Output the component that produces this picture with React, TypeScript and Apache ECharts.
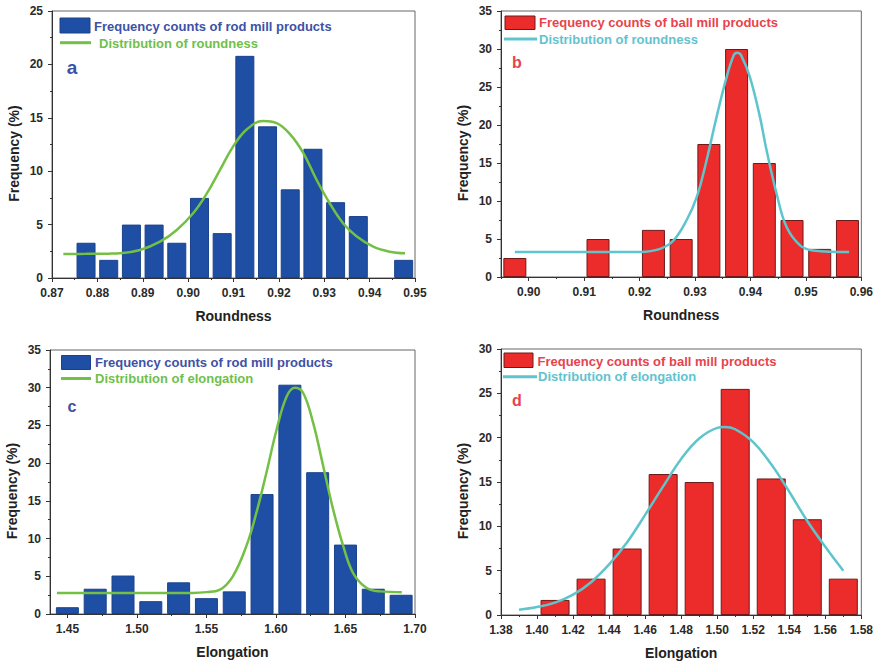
import React, { useEffect, useRef } from 'react';
import * as echarts from 'echarts';

// ---- Panel a: rod mill, roundness ----
const rodRoundnessBins = [0.8775, 0.8825, 0.8875, 0.8925, 0.8975, 0.9025, 0.9075, 0.9125, 0.9175, 0.9225, 0.9275, 0.9325, 0.9375, 0.9425, 0.9475];
const rodRoundnessFreq = [3.3, 1.7, 5.0, 5.0, 3.3, 7.5, 4.2, 20.8, 14.2, 8.3, 12.1, 7.1, 5.8, 0, 1.7];
const rodRoundnessFitX = [0.8725, 0.8775, 0.8825, 0.885, 0.8894, 0.8938, 0.8975, 0.9011, 0.9041, 0.907, 0.9099, 0.9129, 0.9165, 0.9195, 0.9224, 0.9254, 0.9283, 0.9312, 0.9342, 0.9371, 0.9408, 0.9444, 0.9478];
const rodRoundnessFitY = [2.25, 2.26, 2.28, 2.31, 2.62, 3.4, 4.5, 6.06, 7.9, 10.1, 12.3, 13.9, 14.7, 14.5, 13.5, 11.7, 9.2, 7.0, 5.1, 3.9, 2.93, 2.46, 2.31];

// ---- Panel b: ball mill, roundness ----
const ballRoundnessBins = [0.8975, 0.9025, 0.9075, 0.9125, 0.9175, 0.9225, 0.9275, 0.9325, 0.9375, 0.9425, 0.9475, 0.9525, 0.9575];
const ballRoundnessFreq = [2.5, 0, 0, 5.0, 0, 6.2, 5.0, 17.5, 30.0, 15.0, 7.5, 3.7, 7.5];
const ballRoundnessFitX = [0.8975, 0.91, 0.9201, 0.9237, 0.9261, 0.9285, 0.9303, 0.9321, 0.9339, 0.9357, 0.937, 0.9376, 0.9383, 0.9399, 0.9417, 0.9429, 0.9447, 0.9465, 0.9489, 0.9513, 0.9578];
const ballRoundnessFitY = [3.3, 3.3, 3.3, 3.7, 4.8, 7.5, 10.5, 15.4, 21.1, 26.3, 29.2, 29.5, 29.2, 26.3, 21.1, 16.7, 11.0, 6.6, 4.2, 3.5, 3.3];

// ---- Panel c: rod mill, elongation ----
const rodElongationBins = [1.45, 1.47, 1.49, 1.51, 1.53, 1.55, 1.57, 1.59, 1.61, 1.63, 1.65, 1.67, 1.69];
const rodElongationFreq = [0.9, 3.35, 5.1, 1.7, 4.2, 2.1, 3.0, 15.9, 30.4, 18.8, 9.2, 3.35, 2.55];
const rodElongationFitX = [1.4425, 1.5, 1.54, 1.55, 1.5594, 1.569, 1.5787, 1.5859, 1.5931, 1.6004, 1.6076, 1.6136, 1.6196, 1.6268, 1.634, 1.6412, 1.6484, 1.6556, 1.6653, 1.6749, 1.6905];
const rodElongationFitY = [2.8, 2.8, 2.8, 2.9, 3.2, 5.0, 9.0, 13.4, 18.7, 24.4, 28.8, 30.0, 29.3, 25.3, 19.6, 13.8, 9.0, 5.4, 3.45, 3.0, 2.9];

// ---- Panel d: ball mill, elongation ----
const ballElongationBins = [1.41, 1.43, 1.45, 1.47, 1.49, 1.51, 1.53, 1.55, 1.57];
const ballElongationFreq = [1.7, 4.1, 7.5, 15.9, 15.0, 25.5, 15.4, 10.8, 4.1];
const ballElongationFitX = [1.39, 1.4, 1.41, 1.42, 1.43, 1.44, 1.45, 1.46, 1.47, 1.48, 1.49, 1.5, 1.504, 1.51, 1.52, 1.53, 1.54, 1.55, 1.56, 1.57];
const ballElongationFitY = [0.6, 0.9, 1.4, 2.3, 3.7, 5.7, 8.2, 11.3, 14.5, 17.6, 19.9, 21.1, 21.2, 20.95, 19.5, 17.0, 13.9, 10.6, 7.7, 5.0];

// ---- tick labels ----
const ticksB = [0.9, 0.91, 0.92, 0.93, 0.94, 0.95, 0.96];
const minorTicksB = [0.895, 0.905, 0.915, 0.925, 0.935, 0.945, 0.955];
const ticksC = [1.45, 1.5, 1.55, 1.6, 1.65, 1.7];
const minorTicksC = [1.475, 1.525, 1.575, 1.625, 1.675];

const rodLegend = 'Frequency counts of rod mill products';
const ballLegend = 'Frequency counts of ball mill products';
const roundFit = 'Distribution of roundness';
const elongFit = 'Distribution of elongation';

const FONT = "'Liberation Sans', Arial, Helvetica, sans-serif";
const BLUE = '#1f4fa5';
const BLUE_TEXT = '#3e51a6';
const RED = '#ec2b2b';
const RED_TEXT = '#e8434b';
const GREEN = '#74c044';
const GREEN_TEXT = '#6fbf4c';
const CYAN = '#5ec5cd';
const CYAN_TEXT = '#62c3cf';
const AXIS = '#333';

const pairs = (xs: number[], ys: number[]) => xs.map((x, i) => [x, ys[i]]);

const grids = [
  { left: 52, top: 11, width: 363, height: 267 },
  { left: 501, top: 11, width: 362, height: 266 },
  { left: 50, top: 350, width: 365, height: 264 },
  { left: 501, top: 349, width: 362, height: 266 },
].map((g) => ({ ...g, show: true, borderColor: '#666', borderWidth: 1, backgroundColor: 'transparent' }));

const labelStyle = { fontFamily: FONT, fontWeight: 'bold', fontSize: 12, color: '#2a2a2a' };
const nameStyle = { fontFamily: FONT, fontWeight: 'bold', fontSize: 14, color: '#222' };

function mainX(gridIndex: number, min: number, max: number, name: string, extra: any) {
  return {
    type: 'value',
    gridIndex,
    position: 'bottom',
    min,
    max,
    name,
    nameLocation: 'middle',
    nameGap: 31,
    nameTextStyle: nameStyle,
    axisLine: { show: true, onZero: false, lineStyle: { color: AXIS, width: 1 } },
    axisTick: { show: true, inside: false, length: 4, lineStyle: { color: AXIS } },
    axisLabel: { ...labelStyle, margin: 9, formatter: (v: number) => v.toFixed(2) },
    splitLine: { show: false },
    ...extra,
  };
}

function minorX(gridIndex: number, min: number, max: number, values: number[]) {
  return {
    type: 'value',
    gridIndex,
    position: 'bottom',
    min,
    max,
    axisLine: { show: false, onZero: false },
    axisTick: { show: true, inside: false, length: 2, customValues: values, lineStyle: { color: AXIS } },
    axisLabel: { show: false },
    splitLine: { show: false },
  };
}

function mainY(gridIndex: number, max: number) {
  return {
    type: 'value',
    gridIndex,
    min: 0,
    max,
    interval: 5,
    name: 'Frequency (%)',
    nameLocation: 'middle',
    nameGap: 31,
    nameTextStyle: { ...nameStyle, padding: [0, 18, 0, 0] },
    axisLine: { show: true, onZero: false, lineStyle: { color: AXIS, width: 1 } },
    axisTick: { show: true, inside: false, length: 4, lineStyle: { color: AXIS } },
    minorTick: { show: true, splitNumber: 2, length: 2, lineStyle: { color: AXIS } },
    axisLabel: { ...labelStyle, margin: 9 },
    splitLine: { show: false },
    minorSplitLine: { show: false },
  };
}

const xAxes = [
  mainX(0, 0.87, 0.95, 'Roundness', {
    interval: 0.01,
    minorTick: { show: true, splitNumber: 2, length: 2, lineStyle: { color: AXIS } },
    axisLabel: { ...labelStyle, margin: 9, showMinLabel: true, showMaxLabel: true, formatter: (v: number) => v.toFixed(2) },
  }),
  mainX(1, 0.895, 0.96, 'Roundness', {
    axisTick: { show: true, inside: false, length: 4, customValues: ticksB, lineStyle: { color: AXIS } },
    axisLabel: { ...labelStyle, margin: 9, customValues: ticksB, formatter: (v: number) => v.toFixed(2) },
  }),
  mainX(2, 1.4375, 1.7, 'Elongation', {
    axisTick: { show: true, inside: false, length: 4, customValues: ticksC, lineStyle: { color: AXIS } },
    axisLabel: { ...labelStyle, margin: 9, customValues: ticksC, formatter: (v: number) => v.toFixed(2) },
  }),
  mainX(3, 1.38, 1.58, 'Elongation', {
    interval: 0.02,
    minorTick: { show: true, splitNumber: 2, length: 2, lineStyle: { color: AXIS } },
    axisLabel: { ...labelStyle, margin: 9, showMinLabel: true, showMaxLabel: true, formatter: (v: number) => v.toFixed(2) },
  }),
  minorX(1, 0.895, 0.96, minorTicksB),
  minorX(2, 1.4375, 1.7, minorTicksC),
];

const yAxes = [mainY(0, 25), mainY(1, 35), mainY(2, 35), mainY(3, 30)];

function barSeries(i: number, bins: number[], freq: number[], color: string, border: string, width: number, name: string) {
  return {
    type: 'bar',
    name,
    xAxisIndex: i,
    yAxisIndex: i,
    data: pairs(bins, freq).map((p) =>
      p[1] === 0 ? { value: p, itemStyle: { borderWidth: 0, opacity: 0 } } : { value: p }
    ),
    barWidth: width,
    itemStyle: { color, borderColor: border, borderWidth: 1 },
    z: 2,
  };
}

function lineSeries(i: number, xs: number[], ys: number[], color: string, name: string) {
  return {
    type: 'line',
    name,
    xAxisIndex: i,
    yAxisIndex: i,
    data: pairs(xs, ys),
    smooth: 0.4,
    symbol: 'none',
    showSymbol: false,
    lineStyle: { color, width: 2.5 },
    z: 3,
  };
}

const series = [
  barSeries(0, rodRoundnessBins, rodRoundnessFreq, BLUE, '#1a428c', 19, rodLegend),
  lineSeries(0, rodRoundnessFitX, rodRoundnessFitY, GREEN, roundFit),
  barSeries(1, ballRoundnessBins, ballRoundnessFreq, RED, '#6e1a1a', 23, ballLegend),
  lineSeries(1, ballRoundnessFitX, ballRoundnessFitY, CYAN, roundFit),
  barSeries(2, rodElongationBins, rodElongationFreq, BLUE, '#1a428c', 23, rodLegend),
  lineSeries(2, rodElongationFitX, rodElongationFitY, GREEN, elongFit),
  barSeries(3, ballElongationBins, ballElongationFreq, RED, '#6e1a1a', 29, ballLegend),
  lineSeries(3, ballElongationFitX, ballElongationFitY, CYAN, elongFit),
];

function legendBlock(
  rect: [number, number, number, number],
  rectColor: string,
  rectBorder: string,
  text1: string,
  text1Color: string,
  text1Pos: [number, number],
  line: [number, number, number],
  lineColor: string,
  text2: string,
  text2Color: string,
  text2Pos: [number, number]
) {
  return [
    { type: 'rect', shape: { x: rect[0], y: rect[1], width: rect[2], height: rect[3] }, style: { fill: rectColor, stroke: rectBorder, lineWidth: 1 }, z: 10 },
    { type: 'text', x: text1Pos[0], y: text1Pos[1], style: { text: text1, fill: text1Color, font: `bold 13px ${FONT}`, align: 'left', verticalAlign: 'middle' }, z: 10 },
    { type: 'line', shape: { x1: line[0], y1: line[2], x2: line[1], y2: line[2] }, style: { stroke: lineColor, lineWidth: 3 }, z: 10 },
    { type: 'text', x: text2Pos[0], y: text2Pos[1], style: { text: text2, fill: text2Color, font: `bold 13px ${FONT}`, align: 'left', verticalAlign: 'middle' }, z: 10 },
  ];
}

function panelLetter(letter: string, x: number, y: number, color: string, size: number) {
  return { type: 'text', x, y, style: { text: letter, fill: color, font: `bold ${size}px ${FONT}`, align: 'center', verticalAlign: 'middle' }, z: 10 };
}

const graphics = [
  ...legendBlock([60, 18, 30, 15], BLUE, '#1a428c', rodLegend, BLUE_TEXT, [94, 26.5], [60, 91, 42.7], GREEN, roundFit, GREEN_TEXT, [99, 43]),
  ...legendBlock([505, 16, 30, 13.5], RED, '#6e1a1a', ballLegend, RED_TEXT, [539, 22.5], [504, 537, 39], CYAN, roundFit, CYAN_TEXT, [539, 39]),
  ...legendBlock([61.5, 355.5, 29, 14], BLUE, '#1a428c', rodLegend, BLUE_TEXT, [95, 362.5], [61, 91, 378.5], GREEN, elongFit, GREEN_TEXT, [95, 378.5]),
  ...legendBlock([504, 353, 29, 14.5], RED, '#6e1a1a', ballLegend, RED_TEXT, [537.5, 361], [503, 537, 376.7], CYAN, elongFit, CYAN_TEXT, [538, 376.7]),
  panelLetter('a', 72, 67, BLUE_TEXT, 19),
  panelLetter('b', 517, 62, RED_TEXT, 16),
  panelLetter('c', 72, 406, BLUE_TEXT, 16),
  panelLetter('d', 517, 400, RED_TEXT, 16),
];

const option: any = {
  animation: false,
  backgroundColor: '#ffffff',
  grid: grids,
  xAxis: xAxes,
  yAxis: yAxes,
  series,
  graphic: graphics,
};

export default function App() {
  const ref = useRef<HTMLDivElement>(null);
  useEffect(() => {
    if (!ref.current) return;
    const chart = echarts.init(ref.current, null, { renderer: 'svg' });
    chart.setOption(option);
    return () => {
      chart.dispose();
    };
  }, []);
  return (
    <div
      ref={ref}
      style={{ position: 'fixed', left: 0, top: 0, width: 876, height: 663, background: '#fff' }}
    />
  );
}
